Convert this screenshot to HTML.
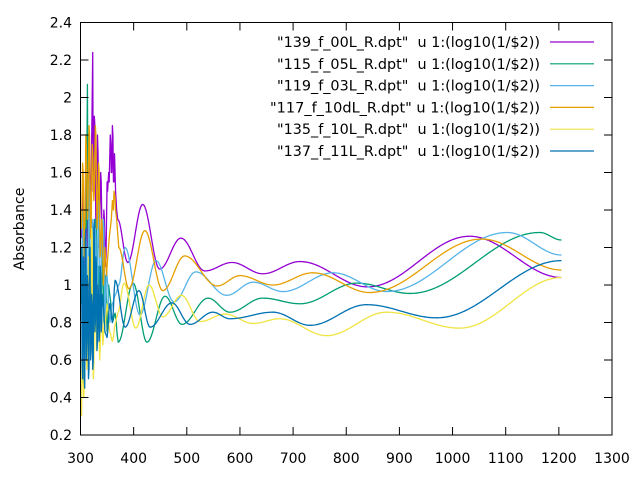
<!DOCTYPE html>
<html><head><meta charset="utf-8"><style>
html,body{margin:0;padding:0;background:#fff;}
svg{display:block;font-family:"DejaVu Sans","Liberation Sans",sans-serif;}
</style></head><body>
<svg id="chart" width="640" height="480" viewBox="0 0 640 480" xmlns="http://www.w3.org/2000/svg">
<g id="series"></g>
<rect x="80.5" y="22.5" width="531.5" height="412.5" fill="none" stroke="#000" stroke-width="1"/>
<g id="axes"></g>
<text transform="translate(24,229) rotate(-90)" text-anchor="middle" font-size="14" fill="#000">Absorbance</text>
<g id="legend"></g>
</svg>
<script>
const xTicks = [300,400,500,600,700,800,900,1000,1100,1200,1300];
const yTicks = [0.2,0.4,0.6,0.8,1,1.2,1.4,1.6,1.8,2,2.2,2.4];
const yTickLabels = ["0.2","0.4","0.6","0.8","1","1.2","1.4","1.6","1.8","2","2.2","2.4"];
const seriesNames = ['"139_f_00L_R.dpt"  u 1:(log10(1/$2))','"115_f_05L_R.dpt"  u 1:(log10(1/$2))','"119_f_03L_R.dpt"  u 1:(log10(1/$2))','"117_f_10dL_R.dpt" u 1:(log10(1/$2))','"135_f_10L_R.dpt"  u 1:(log10(1/$2))','"137_f_11L_R.dpt"  u 1:(log10(1/$2))'];
const seriesColors = ["#9400d3","#009e73","#56b4e9","#e69f00","#f0e442","#0072b2"];
const P_x = [302,304,305,307,308,310,311,313,314,316,317,319,320,322,323,324,326,327,329,330,332,333,335,336,338,339,341,342,344,345,347,348,350,351,353,354,356,357,358,359,360,361,362,363,364,366,368,370,389,417,449,489,534,585,643,713,840,1032,1205];
const P_y = [1.25,1.5,1.4,1.1,1.15,1.7,1.6,1.2,1.3,1.8,1.75,1.3,1.5,2.0,2.24,1.5,1.9,1.85,1.3,1.4,1.8,1.7,1.2,1.3,1.6,1.55,1.15,1.2,1.4,1.35,1.1,1.15,1.55,1.5,1.6,1.55,1.8,1.75,1.6,1.6,1.85,1.8,1.55,1.55,1.7,1.5,1.4,1.35,1.12,1.43,1.085,1.25,1.075,1.12,1.06,1.125,0.99,1.26,1.04];
const G_x = [302,304,305,307,308,310,311,313,315,316,318,320,321,323,324,326,327,329,330,332,333,335,336,338,339,341,342,344,345,347,348,350,351,353,355,360,365,371,399,425,459,491,540,581,643,713,820,920,1164,1205];
const G_y = [0.9,1.25,1.2,0.75,0.8,1.35,1.3,2.07,0.9,1.3,1.2,0.7,0.75,1.2,1.1,0.75,0.8,1.35,1.3,0.85,0.9,1.1,1.0,0.75,0.8,1.2,1.15,0.8,0.85,1.05,1.0,0.75,0.78,1.0,0.95,0.8,0.85,0.695,1.01,0.695,0.94,0.79,0.93,0.855,0.93,0.9,1.01,0.955,1.28,1.24];
const L_x = [302,304,305,307,308,310,311,313,314,316,317,319,320,322,323,325,326,328,329,331,332,334,335,337,338,340,341,343,344,346,347,349,350,355,360,366,372,384,412,442,476,517,575,625,681,775,876,1103,1205];
const L_y = [1.0,1.4,1.35,0.8,0.85,1.25,1.2,0.85,0.9,1.55,1.5,0.95,1.0,1.35,1.3,0.75,0.8,1.3,1.25,0.9,0.95,1.45,1.4,0.85,0.9,1.25,1.2,1.35,1.3,0.8,0.85,1.1,1.05,0.8,0.9,0.95,1.0,1.2,0.84,1.13,0.91,1.07,0.945,1.015,0.965,1.065,0.965,1.28,1.16];
const O_x = [302,304,305,307,308,310,311,313,314,316,317,319,320,322,323,325,326,328,329,331,332,334,335,337,338,340,341,343,344,346,347,349,350,354,358,360,362,363,365,366,368,372,391,421,455,496,557,600,662,737,844,1055,1205];
const O_y = [1.3,1.65,1.6,1.15,1.2,1.8,1.75,1.35,1.4,1.85,1.8,1.25,1.3,1.75,1.7,1.45,1.5,1.85,1.8,1.3,1.35,1.65,1.6,1.15,1.2,1.35,1.3,1.0,1.05,1.2,1.15,1.05,1.1,1.25,1.35,1.45,1.4,1.5,1.47,1.4,1.35,1.2,0.98,1.29,0.97,1.155,0.995,1.05,1.0,1.065,0.96,1.245,1.08];
const Y_x = [302,303,304,306,307,309,310,312,313,315,316,318,319,321,322,324,325,327,328,330,331,333,334,336,337,339,340,342,343,345,346,350,355,360,366,370,382,404,429,455,490,525,572,625,675,763,876,1013,1205];
const Y_y = [0.3,0.65,0.6,0.4,0.45,0.95,0.9,0.55,0.6,1.15,1.1,0.65,0.7,1.3,1.25,0.5,0.55,1.05,1.0,0.65,0.7,1.0,0.95,0.6,0.65,0.9,0.85,0.68,0.72,0.82,0.78,0.9,0.75,0.7,0.8,0.85,1.01,0.77,1.0,0.83,0.945,0.805,0.845,0.795,0.82,0.73,0.855,0.77,1.04];
const D_x = [302,303,304,305,306,307,308,309,310,311,312,313,314,315,316,317,318,319,320,321,322,323,324,325,326,327,328,329,330,331,332,333,334,335,336,337,338,339,340,341,343,346,350,355,360,365,384,410,431,472,506,549,581,662,732,838,970,1205];
const D_y = [1.2,0.6,0.5,1.15,1.1,0.5,0.45,1.25,1.3,0.6,0.7,1.05,1.0,0.5,0.55,1.15,1.2,0.6,0.65,0.95,0.9,0.55,0.6,1.3,1.35,0.75,0.8,1.15,1.1,0.65,0.7,1.0,0.95,0.7,0.75,1.1,1.05,0.75,0.8,0.95,0.9,0.75,0.72,0.9,0.8,1.025,0.775,0.97,0.775,0.905,0.79,0.855,0.82,0.855,0.785,0.895,0.825,1.13];

const NS = "http://www.w3.org/2000/svg";
const X0 = 80.5, X1 = 612, Y0 = 435, Y1 = 22.5;
function xScale(v){ return X0 + (v - 300) / 1000 * (X1 - X0); }
function yScale(v){ return Y0 - (v - 0.2) / 2.2 * (Y0 - Y1); }

const axes = document.getElementById('axes');
xTicks.forEach(function(t){
  const x = xScale(t);
  const l1 = document.createElementNS(NS,'line');
  l1.setAttribute('x1',x); l1.setAttribute('x2',x); l1.setAttribute('y1',Y0); l1.setAttribute('y2',Y0-8);
  l1.setAttribute('stroke','#000');
  
  
  axes.appendChild(l1);
  const l2 = document.createElementNS(NS,'line');
  l2.setAttribute('x1',x); l2.setAttribute('x2',x); l2.setAttribute('y1',Y1); l2.setAttribute('y2',Y1+8);
  l2.setAttribute('stroke','#000');
  
  
  axes.appendChild(l2);
  const tx = document.createElementNS(NS,'text');
  tx.setAttribute('x',x); tx.setAttribute('y',463); tx.setAttribute('text-anchor','middle'); tx.setAttribute('font-size','14');
  tx.textContent = String(t);
  
  
  axes.appendChild(tx);
});
yTicks.forEach(function(t,i){
  const y = yScale(t);
  const l1 = document.createElementNS(NS,'line');
  l1.setAttribute('x1',X0); l1.setAttribute('x2',X0+8); l1.setAttribute('y1',y); l1.setAttribute('y2',y);
  l1.setAttribute('stroke','#000');
  
  
  axes.appendChild(l1);
  const l2 = document.createElementNS(NS,'line');
  l2.setAttribute('x1',X1); l2.setAttribute('x2',X1-8); l2.setAttribute('y1',y); l2.setAttribute('y2',y);
  l2.setAttribute('stroke','#000');
  
  
  axes.appendChild(l2);
  const tx = document.createElementNS(NS,'text');
  tx.setAttribute('x',72); tx.setAttribute('y',y+5); tx.setAttribute('text-anchor','end'); tx.setAttribute('font-size','14');
  tx.textContent = yTickLabels[i];
  
  
  axes.appendChild(tx);
});

const seriesX = [P_x,G_x,L_x,O_x,Y_x,D_x];
const seriesY = [P_y,G_y,L_y,O_y,Y_y,D_y];
const sg = document.getElementById('series');
seriesX.forEach(function(xs,si){
  const ys = seriesY[si];
  let d = 'M' + xScale(xs[0]).toFixed(2) + ',' + yScale(ys[0]).toFixed(2);
  for (let i = 1; i < xs.length; i++){
    const xa = xs[i-1], xb = xs[i], ya = ys[i-1], yb = ys[i];
    if (xb - xa <= 3){
      d += 'L' + xScale(xb).toFixed(2) + ',' + yScale(yb).toFixed(2);
      continue;
    }
    const n = Math.max(1, Math.round((xb - xa) / 2));
    for (let k = 1; k <= n; k++){
      const t = k / n;
      const xv = xa + (xb - xa) * t;
      const yv = ya + (yb - ya) * (1 - Math.cos(Math.PI * t)) / 2;
      d += 'L' + xScale(xv).toFixed(2) + ',' + yScale(yv).toFixed(2);
    }
  }
  const p = document.createElementNS(NS,'path');
  p.setAttribute('d',d); p.setAttribute('fill','none'); p.setAttribute('stroke',seriesColors[si]);
  p.setAttribute('stroke-width','1.3'); p.setAttribute('stroke-linejoin','round');
  
  
  sg.appendChild(p);
});

const lg = document.getElementById('legend');
seriesNames.forEach(function(nm,i){
  const y = 42 + i * 21.8;
  const tx = document.createElementNS(NS,'text');
  const startX = (i === 3) ? 270 : 277;
  tx.setAttribute('x',startX); tx.setAttribute('y',y+5); tx.setAttribute('font-size','14');
  tx.setAttribute('textLength', String(540 - startX)); tx.setAttribute('lengthAdjust','spacingAndGlyphs');
  tx.setAttribute('xml:space','preserve'); tx.style.whiteSpace = 'pre';
  tx.textContent = nm;
  
  
  lg.appendChild(tx);
  const ln = document.createElementNS(NS,'line');
  ln.setAttribute('x1',550); ln.setAttribute('x2',594); ln.setAttribute('y1',y); ln.setAttribute('y2',y);
  ln.setAttribute('stroke',seriesColors[i]); ln.setAttribute('stroke-width','1.2');
  
  
  lg.appendChild(ln);
});
</script>
</body></html>
